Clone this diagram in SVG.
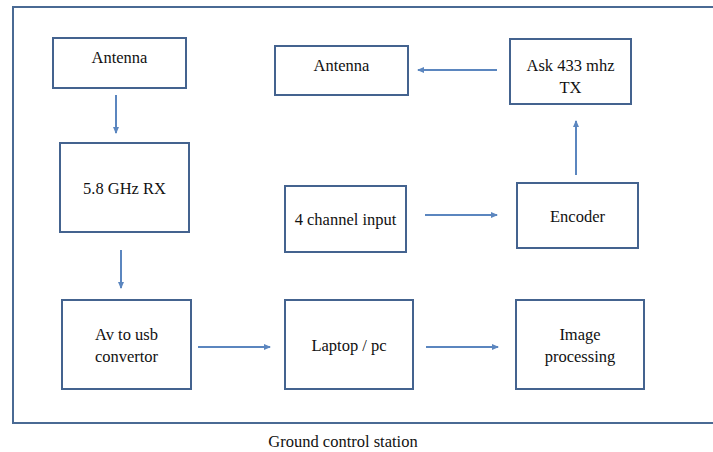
<svg xmlns="http://www.w3.org/2000/svg" width="713" height="452" viewBox="0 0 713 452">
<style>
.box{fill:#fff;stroke:#44638f;stroke-width:2}
.t{font-family:"Liberation Serif","Times New Roman",serif;font-size:16.5px;fill:#111;text-anchor:middle}
.c{stroke:#5b86bf;stroke-width:2;fill:none;marker-end:url(#ah)}
</style>
<defs>
<marker id="ah" markerWidth="8" markerHeight="8" refX="6" refY="4" orient="auto" markerUnits="userSpaceOnUse">
<path d="M0,1 L7,4 L0,7 Z" fill="#5b86bf"/>
</marker>
</defs>
<rect width="713" height="452" fill="#fff"/>
<rect id="frame" x="13" y="7" width="712" height="416" fill="none" stroke="#4a6a94" stroke-width="2"/>
<g id="antenna1"><rect class="box" x="53" y="38" width="133" height="50"/><text class="t" x="119.5" y="63">Antenna</text></g>
<g id="rx"><rect class="box" x="60" y="143" width="129" height="89"/><text class="t" x="124.5" y="194">5.8 GHz RX</text></g>
<g id="antenna2"><rect class="box" x="275" y="46" width="133" height="49"/><text class="t" x="341.5" y="71">Antenna</text></g>
<g id="tx"><rect class="box" x="510" y="39" width="121" height="65"/><text class="t" x="570.5" y="71">Ask 433 mhz</text><text class="t" x="570.5" y="93">TX</text></g>
<g id="input"><rect class="box" x="285" y="186" width="121" height="66"/><text class="t" x="345.5" y="225">4 channel input</text></g>
<g id="encoder"><rect class="box" x="517" y="183" width="121" height="65"/><text class="t" x="577.5" y="222">Encoder</text></g>
<g id="avusb"><rect class="box" x="62" y="300" width="129" height="89"/><text class="t" x="126.5" y="340">Av to usb</text><text class="t" x="126.5" y="362">convertor</text></g>
<g id="laptop"><rect class="box" x="285" y="300" width="128" height="89"/><text class="t" x="349" y="351">Laptop / pc</text></g>
<g id="imgproc"><rect class="box" x="516" y="300" width="128" height="89"/><text class="t" x="580" y="340">Image</text><text class="t" x="580" y="362">processing</text></g>
<g id="connectors">
<line class="c" x1="116" y1="95" x2="116" y2="133"/>
<line class="c" x1="121" y1="250" x2="121" y2="288"/>
<line class="c" x1="497" y1="70" x2="418" y2="70"/>
<line class="c" x1="576" y1="175" x2="576" y2="121"/>
<line class="c" x1="425" y1="215" x2="497" y2="215"/>
<line class="c" x1="198" y1="347" x2="270" y2="347"/>
<line class="c" x1="426" y1="347" x2="498" y2="347"/>
</g>
<text class="t" x="343" y="447">Ground control station</text>
</svg>
